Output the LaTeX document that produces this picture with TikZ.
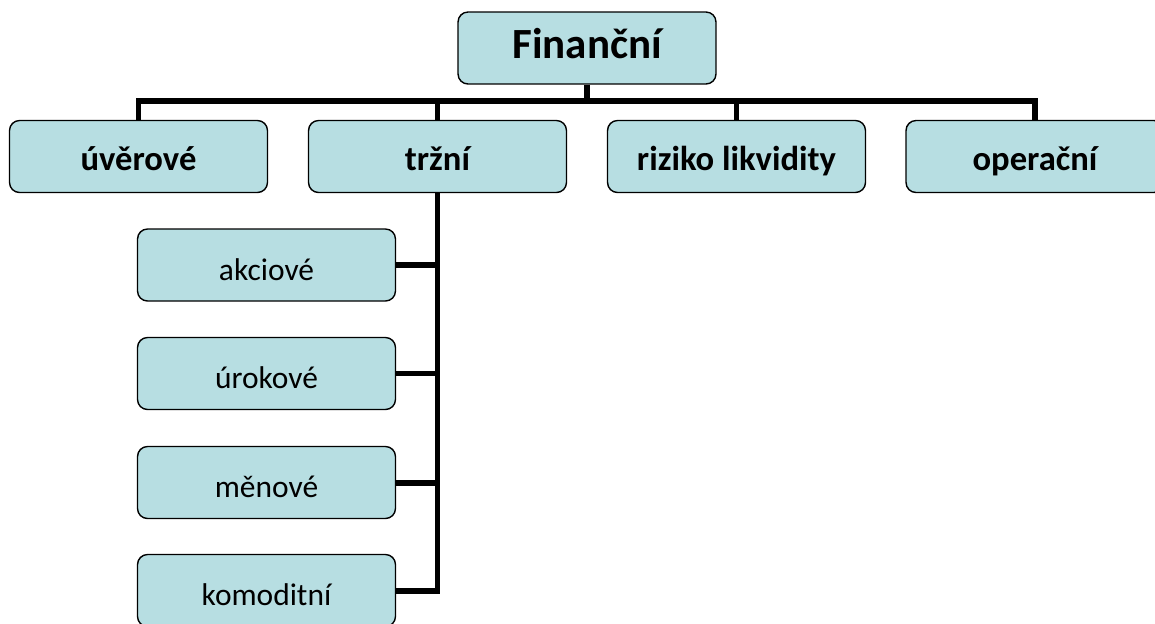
\documentclass[tikz,border=0pt]{standalone}
\usepackage{fontspec}
\setmainfont{Carlito}
\usetikzlibrary{positioning}
\definecolor{boxfill}{RGB}{183,222,226}
\tikzset{
	x=0.02cm, y=-0.02cm,
	riskbox/.style={draw, line width=0.8pt, rounded corners=0.2cm, fill=boxfill,
		minimum width=5.16cm, minimum height=1.44cm, inner sep=0pt, text depth=0pt},
	toprisk/.style={riskbox, text height=0.4cm, font=\fontsize{24.5}{29}\selectfont\bfseries},
	mainrisk/.style={riskbox, text height=0.54cm, font=\fontsize{19.7}{24}\selectfont\bfseries},
	subrisk/.style={riskbox, text height=0.6cm, font=\fontsize{17.9}{22}\selectfont},
	link/.style={draw, line width=3.4pt}
}

\begin{document}
\begin{tikzpicture}
\clip (0,0) rectangle (1155,623);

\node[toprisk] (fin) at (587,48) {Finanční};

\node[mainrisk] (uver) at (138.5,156.5) {úvěrové};
\node[mainrisk] (trz) at (437.5,156.5) {tržní};
\node[mainrisk] (likv) at (736.5,156.5) {riziko likvidity};
\node[mainrisk] (oper) at (1035,156.5) {operační};

\node[subrisk] (akc) at (266.5,265) {akciové};
\node[subrisk] (urok) at (266.5,373.5) {úrokové};
\node[subrisk] (men) at (266.5,482.5) {měnové};
\node[subrisk] (komod) at (266.5,590.5) {komoditní};

% top level
\coordinate (bus) at (587,101);
\draw[link] (fin.south) -- (bus);
\foreach \n in {uver, trz, likv, oper}
	\draw[link] (bus) -| (\n.north);

% market risks
\foreach \n in {akc, urok, men, komod}
	\draw[link] (trz.south) |- (\n.east);
\end{tikzpicture}
\end{document}
